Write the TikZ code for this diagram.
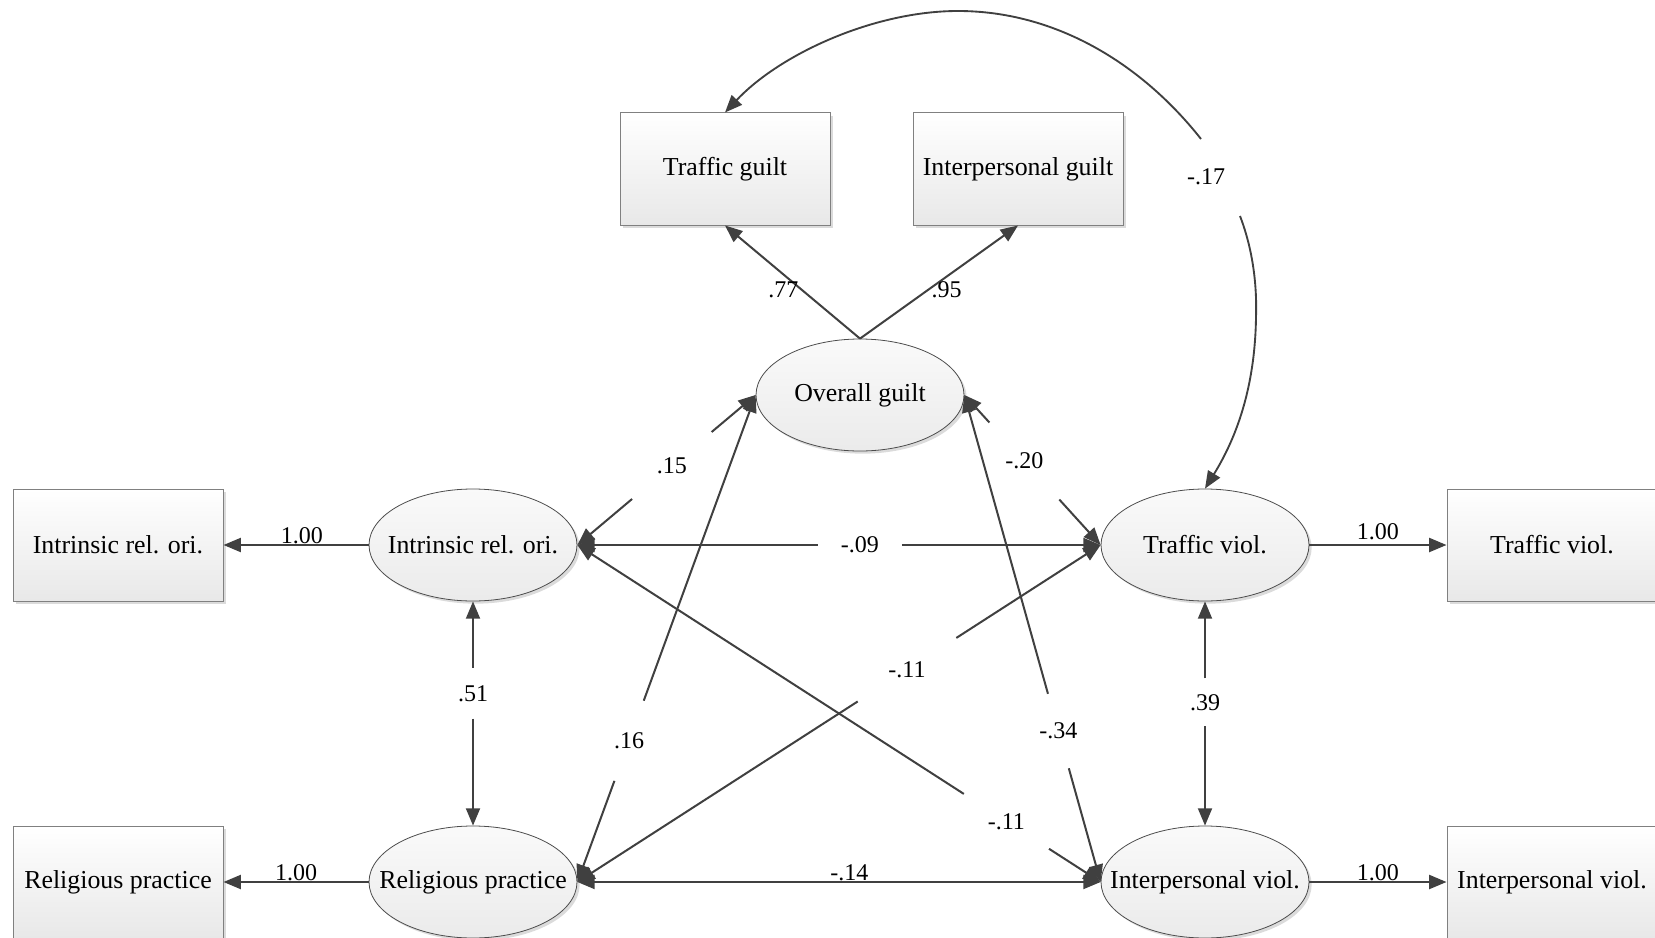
\documentclass[tikz,border=0pt]{standalone}
\usepackage{fontspec}
\setmainfont{Liberation Serif}
\usetikzlibrary{arrows.meta,shapes.geometric,shadows}

\tikzset{every picture/.style={line width=0.75pt}}
\tikzset{
  obs/.style={draw=black!50, line width=0.75pt, top color=white, bottom color=black!9, minimum width=157.5pt, minimum height=84pt, inner sep=0pt, drop shadow={shadow xshift=2.5pt, shadow yshift=-2.5pt, fill=black!20, opacity=0.7}},
  latent/.style={ellipse, draw=black!70, line width=0.6pt, top color=black!2, bottom color=black!8, minimum width=156pt, minimum height=84pt, inner sep=0pt, drop shadow={shadow xshift=2pt, shadow yshift=-2pt, fill=black!20, opacity=0.7}},
  half/.style={draw=black!75, line width=1.5pt, -{Triangle[length=13pt,width=10.5pt]}},
  both/.style={draw=black!75, line width=1.5pt, {Triangle[length=13pt,width=10.5pt]}-{Triangle[length=13pt,width=10.5pt]}},
  halfgap/.style={shorten <=#1},
  num/.style={font=\fontsize{18}{21}\selectfont, inner sep=2pt}
}

\begin{document}
\begin{tikzpicture}[x=0.75pt,y=0.75pt,yscale=-1,xscale=1, font=\fontsize{19.4}{23}\selectfont]
\useasboundingbox (0,0) rectangle (1655,938);

%Shape: Rectangle
\node[obs] (tgu) at (725,169) {Traffic guilt};
\node[obs] (igu) at (1018,169) {Interpersonal guilt};
\node[obs] (irobox) at (118,545) {Intrinsic rel. ori.};
\node[obs] (relbox) at (118,882) {Religious practice};
\node[obs] (tvibox) at (1552,545) {Traffic viol.};
\node[obs] (ivibox) at (1552,882) {Interpersonal viol.};

%Shape: Ellipse
\node[latent, label=center:Overall guilt] (ogu) at (860,395) {};
\node[latent, label=center:Intrinsic rel. ori.] (iro) at (473,545) {};
\node[latent, label=center:Religious practice] (rel) at (473,882) {};
\node[latent, label=center:Traffic viol.] (tvi) at (1205,545) {};
\node[latent, label=center:Interpersonal viol.] (ivi) at (1205,882) {};

%Straight Lines
\draw[half] (ogu.north) -- node[num, left, pos=0.43] (l77) {.77} (tgu.south);
\draw[half] (ogu.north) -- node[num, right, pos=0.43] (l95) {.95} (igu.south);
\draw[half] (iro.west) -- node[num, above, inner sep=0pt, pos=0.46] (l1a) {1.00} (irobox.east);
\draw[half] (rel.west) -- node[num, above, inner sep=0pt, pos=0.5] (l1b) {1.00} (relbox.east);
\draw[half] (tvi.east) -- node[num, above, inner sep=3pt, pos=0.5] (l1c) {1.00} (tvibox.west);
\draw[half] (ivi.east) -- node[num, above, inner sep=0pt, pos=0.5] (l1d) {1.00} (ivibox.west);
\draw[both] (rel.east) -- node[num, above, inner sep=0pt, pos=0.52] (l14) {-.14} (ivi.west);

%Straight Lines with gap
\path (ogu.west) -- coordinate[pos=0.47] (c15) (iro.east);
\draw[half, halfgap=39pt] (c15) -- (ogu.west);
\draw[half, halfgap=39pt] (c15) -- (iro.east);
\path (ogu.west) -- coordinate[pos=0.71] (c16) (rel.east);
\draw[half, halfgap=32pt] (c16) -- (ogu.west);
\draw[half, halfgap=32pt] (c16) -- (rel.east);
\path (ogu.east) -- coordinate[pos=0.44] (c20) (tvi.west);
\draw[half, halfgap=39pt] (c20) -- (ogu.east);
\draw[half, halfgap=39pt] (c20) -- (tvi.west);
\path (ogu.east) -- coordinate[pos=0.69] (c34) (ivi.west);
\draw[half, halfgap=29pt] (c34) -- (ogu.east);
\draw[half, halfgap=29pt] (c34) -- (ivi.west);
\path (iro.east) -- coordinate[pos=0.54] (c09) (tvi.west);
\draw[half, halfgap=31.5pt] (c09) -- (iro.east);
\draw[half, halfgap=31.5pt] (c09) -- (tvi.west);
\path (iro.east) -- coordinate[pos=0.82] (c11b) (ivi.west);
\draw[half, halfgap=38pt] (c11b) -- (iro.east);
\draw[half, halfgap=38pt] (c11b) -- (ivi.west);
\path (rel.east) -- coordinate[pos=0.63] (c11a) (tvi.west);
\draw[half, halfgap=44pt] (c11a) -- (rel.east);
\draw[half, halfgap=44pt] (c11a) -- (tvi.west);
\path (iro.south) -- coordinate[pos=0.41] (c51) (rel.north);
\draw[half, halfgap=19pt] (c51) -- (iro.south);
\draw[half, halfgap=19pt] (c51) -- (rel.north);
\path (tvi.south) -- coordinate[pos=0.45] (c39) (ivi.north);
\draw[half, halfgap=18pt] (c39) -- (tvi.south);
\draw[half, halfgap=18pt] (c39) -- (ivi.north);

%Curve Lines
\coordinate (arctop) at (958,11);
\coordinate (arcin) at (1201,139);
\coordinate (arcout) at (1240,216);
\coordinate (arcright) at (1256,317);
\draw[half, line width=1.4pt] (arcin) .. controls (1141,63) and (1055,11) .. (arctop) .. controls (874,11) and (780,54) .. (tgu.north);
\draw[half, line width=1.4pt] (arcout) .. controls (1253,250) and (1257,285) .. (arcright) .. controls (1255,390) and (1235,440) .. (tvi.north);

% Text Node
\node[num] (l15) at (c15) {.15};
\node[num] (l16) at (c16) {.16};
\node[num] (l20) at (c20) {-.20};
\node[num] (l34) at (c34) {-.34};
\node[num] (l09) at (c09) {-.09};
\node[num] (l11b) at (c11b) {-.11};
\node[num] (l11a) at (c11a) {-.11};
\node[num] (l51) at (c51) {.51};
\node[num] (l39) at (c39) {.39};
\node[num] (l17) at (1206,177) {-.17};

\end{tikzpicture}
\end{document}
